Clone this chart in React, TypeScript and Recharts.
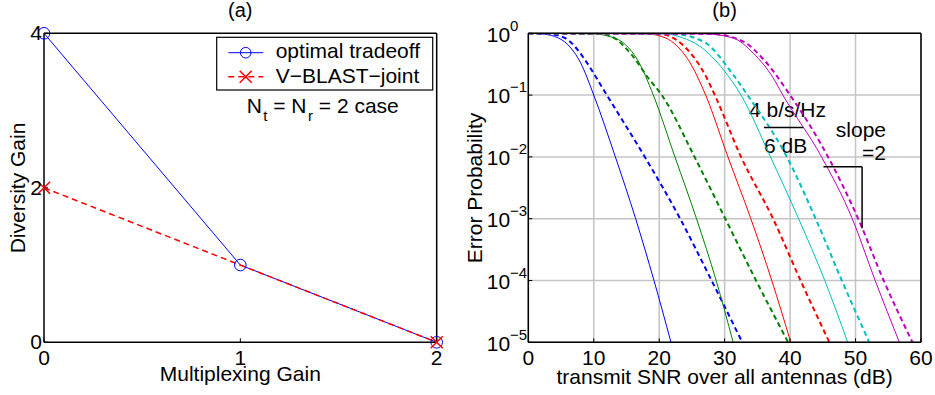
import React from 'react';
import { LineChart, Line, XAxis, YAxis, CartesianGrid, ReferenceLine, Customized } from 'recharts';

const FONT = '"Liberation Sans", Arial, Helvetica, sans-serif';

// (a) diversity vs multiplexing gain, Nt = Nr = 2
const optimalMux = [0, 1, 2];
const optimalDiv = [4, 1, 0];
const vblastMux = [0, 2];
const vblastDiv = [2, 0];
const muxTicks = [0, 1, 2];
const divTicks = [0, 2, 4];

// (b) error probability vs transmit SNR
const snrTicks = [0, 10, 20, 30, 40, 50, 60];
const peTicks = [1e-5, 1e-4, 1e-3, 1e-2, 1e-1, 1];
const peMinorTicks = [1e-5, 1e-4, 1e-3, 1e-2, 1e-1].flatMap(d => [2, 3, 4, 5, 6, 7, 8, 9].map(m => m * d));

const blueSolidSnr = [0, 2, 4, 6, 8, 10, 13.3, 16.4, 19.2, 21.8];
const blueSolidPe = [1, 0.977, 0.891, 0.661, 0.331, 0.1, 1e-2, 1e-3, 1e-4, 1e-5];
const blueDashSnr = [0, 3, 5.6, 8.66, 10.4, 12, 17.8, 23.2, 28.0, 32.7];
const blueDashPe = [1, 0.977, 0.839, 0.372, 0.191, 0.1, 1e-2, 1e-3, 1e-4, 1e-5];
const greenSolidSnr = [0, 10, 12, 14.8, 16.8, 19.1, 22.4, 25.7, 28.7, 31.3];
const greenSolidPe = [1, 0.977, 0.912, 0.661, 0.355, 0.1, 1e-2, 1e-3, 1e-4, 1e-5];
const greenDashSnr = [0, 11, 12.7, 15.8, 18.3, 20.4, 25.4, 30.1, 34.8, 39.7];
const greenDashPe = [1, 0.977, 0.891, 0.447, 0.191, 0.1, 1e-2, 1e-3, 1e-4, 1e-5];
const redSolidSnr = [0, 18, 20, 21.9, 24.9, 27.1, 30.5, 34.0, 37.2, 40.1];
const redSolidPe = [1, 0.977, 0.912, 0.741, 0.309, 0.1, 1e-2, 1e-3, 1e-4, 1e-5];
const redDashSnr = [0, 20, 23.9, 27, 28.5, 32.5, 37.4, 41.6, 46];
const redDashPe = [1, 0.977, 0.603, 0.214, 0.1, 1e-2, 1e-3, 1e-4, 1e-5];
const cyanSolidSnr = [0, 21, 23.5, 26.2, 29.9, 32.5, 37.0, 41.3, 45.3, 48.8];
const cyanSolidPe = [1, 0.977, 0.851, 0.617, 0.251, 0.1, 1e-2, 1e-3, 1e-4, 1e-5];
const cyanDashSnr = [0, 22, 26.7, 31.3, 33.5, 39.5, 43.9, 47.9, 52.1];
const cyanDashPe = [1, 0.977, 0.741, 0.214, 0.1, 1e-2, 1e-3, 1e-4, 1e-5];
const magSolidSnr = [0, 27, 31.3, 34.35, 37.4, 38.9, 44.8, 49.5, 53.0, 56.7];
const magSolidPe = [1, 0.977, 0.839, 0.479, 0.191, 0.1, 1e-2, 1e-3, 1e-4, 1e-5];
const magDashSnr = [0, 28, 32.8, 36.0, 40.0, 45.8, 50.4, 54.3, 58.7];
const magDashPe = [1, 0.977, 0.741, 0.372, 0.1, 1e-2, 1e-3, 1e-4, 1e-5];

// slope annotations (data coords)
const rateBar = [{ x: 36, y: 0.030 }, { x: 42, y: 0.030 }];
const slopeH = [{ x: 45.1, y: 0.0069 }, { x: 51, y: 0.0069 }];
const slopeV = [{ x: 51, y: 0.0069 }, { x: 51, y: 0.0007 }];

const optimalData = optimalMux.map((g, i) => ({ g, d: optimalDiv[i] }));
const vblastData = vblastMux.map((g, i) => ({ g, d: vblastDiv[i] }));
const toSeries = (snr: number[], pe: number[]) => snr.map((s, i) => ({ snr: s, pe: pe[i] }));

const curves = [
  { id: 'bs', data: toSeries(blueSolidSnr, blueSolidPe), color: '#0000ff', dashed: false },
  { id: 'bd', data: toSeries(blueDashSnr, blueDashPe), color: '#0000ff', dashed: true },
  { id: 'gs', data: toSeries(greenSolidSnr, greenSolidPe), color: '#008000', dashed: false },
  { id: 'gd', data: toSeries(greenDashSnr, greenDashPe), color: '#008000', dashed: true },
  { id: 'rs', data: toSeries(redSolidSnr, redSolidPe), color: '#ff0000', dashed: false },
  { id: 'rd', data: toSeries(redDashSnr, redDashPe), color: '#ff0000', dashed: true },
  { id: 'cs', data: toSeries(cyanSolidSnr, cyanSolidPe), color: '#00bfbf', dashed: false },
  { id: 'cd', data: toSeries(cyanDashSnr, cyanDashPe), color: '#00bfbf', dashed: true },
  { id: 'ms', data: toSeries(magSolidSnr, magSolidPe), color: '#bf00bf', dashed: false },
  { id: 'md', data: toSeries(magDashSnr, magDashPe), color: '#bf00bf', dashed: true },
];

const frame = { stroke: '#000', strokeWidth: 1.5 };
const tickStroke = { stroke: '#000', strokeWidth: 1 };
const THIN = 0.01; // axes of zero size are not drawn

const BottomTick = (props: any) => {
  const { x, y, payload } = props;
  return <text x={x} y={y + 15} textAnchor="middle" fontFamily={FONT} fontSize={21} fill="#000">{payload.value}</text>;
};

const DivTick = (props: any) => {
  const { x, y, payload } = props;
  return <text x={x} y={y + 7} textAnchor="end" fontFamily={FONT} fontSize={21} fill="#000">{payload.value}</text>;
};

const PeTick = (props: any) => {
  const { x, y, payload } = props;
  const e = Math.round(Math.log10(payload.value));
  return <text x={x} y={y + 8.3} textAnchor="start" fontFamily={FONT} fontSize={21} fill="#000">
      10<tspan dy={-11} fontSize={15}>{e === 0 ? '0' : '\u2212' + Math.abs(e)}</tspan>
    </text>;
};

const CircleDot = (p: any) => <circle key={'c' + p.index} cx={p.cx} cy={p.cy} r={5.8} fill="none" stroke="#0000ff" strokeWidth={1} />;
const CrossDot = (p: any) => <g key={'x' + p.index} stroke="#ff0000" strokeWidth={1.5}>
    <line x1={p.cx - 6} y1={p.cy - 6} x2={p.cx + 6} y2={p.cy + 6} />
    <line x1={p.cx - 6} y1={p.cy + 6} x2={p.cx + 6} y2={p.cy - 6} />
  </g>;

const TextA = () => <g fontFamily={FONT} fontSize={21} fill="#000">
    <text x={240.3} y={16.5} textAnchor="middle" fontSize={20}>(a)</text>
    <text x={240.3} y={381} textAnchor="middle">Multiplexing Gain</text>
    <text x={25} y={188} textAnchor="middle" transform="rotate(-90, 25, 188)">Diversity Gain</text>
    <rect x={216.7} y={37.3} width={216} height={52.7} fill="#fff" stroke="#000" strokeWidth={1.2} />
    <line x1={228.3} y1={52.7} x2={263.3} y2={52.7} stroke="#0000ff" strokeWidth={1} />
    <circle cx={245.7} cy={52.7} r={5.3} fill="none" stroke="#0000ff" strokeWidth={1} />
    <text x={275.7} y={58.3}>optimal tradeoff</text>
    <line x1={228.3} y1={76.7} x2={263.3} y2={76.7} stroke="#ff0000" strokeWidth={1.5} strokeDasharray="6 4" />
    <g stroke="#ff0000" strokeWidth={1.5}>
      <line x1={239.7} y1={70.7} x2={251.7} y2={82.7} />
      <line x1={239.7} y1={82.7} x2={251.7} y2={70.7} />
    </g>
    <text x={275.7} y={82.7}>V{'\u2212'}BLAST{'\u2212'}joint</text>
    <text x={246.7} y={113.3}>
      N<tspan dy={8} fontSize={15} dx={1.4}>t</tspan>
      <tspan dy={-8}> = N</tspan>
      <tspan dy={8} fontSize={15} dx={1.4}>r</tspan>
      <tspan dy={-8}> = 2 case</tspan>
    </text>
  </g>;

const TextB = () => <g fontFamily={FONT} fontSize={21} fill="#000">
    <text x={264.6} y={16.5} textAnchor="middle" fontSize={20}>(b)</text>
    <text x={264.6} y={384} textAnchor="middle">transmit SNR over all antennas (dB)</text>
    <text x={22} y={188} textAnchor="middle" transform="rotate(-90, 22, 188)">Error Probability</text>
    <text x={289} y={116.7}>4 b/s/Hz</text>
    <text x={304} y={153.3}>6 dB</text>
    <text x={426} y={137.3} textAnchor="end">slope</text>
    <text x={426} y={160} textAnchor="end">=2</text>
  </g>;

const TradeoffChart = () => <LineChart width={460} height={395} margin={{ top: 33.3, right: 23.3, left: 44, bottom: 52.7 }}>
    <XAxis dataKey="g" type="number" domain={[0, 2]} ticks={muxTicks} height={THIN} axisLine={frame} tickLine={tickStroke} tickSize={-4} tickMargin={11.7} tick={<BottomTick />} interval={0} />
    <XAxis xAxisId="top" orientation="top" dataKey="g" type="number" domain={[0, 2]} ticks={muxTicks} height={THIN} axisLine={frame} tickLine={tickStroke} tickSize={-4} tick={false} />
    <YAxis type="number" domain={[0, 4]} ticks={divTicks} width={THIN} axisLine={frame} tickLine={tickStroke} tickSize={-4} tickMargin={6} tick={<DivTick />} interval={0} />
    <YAxis yAxisId="right" orientation="right" type="number" domain={[0, 4]} ticks={divTicks} width={THIN} axisLine={frame} tickLine={tickStroke} tickSize={-4} tick={false} />
    <Line data={optimalData} dataKey="d" type="linear" stroke="#0000ff" strokeWidth={1} dot={CircleDot} activeDot={false} isAnimationActive={false} />
    <Line data={vblastData} dataKey="d" type="linear" stroke="#ff0000" strokeWidth={1.5} strokeDasharray="6 4" dot={CrossDot} activeDot={false} isAnimationActive={false} />
    <Customized component={TextA} />
  </LineChart>;

const ErrorChart = () => <LineChart width={475} height={395} margin={{ top: 33.3, right: 14, left: 68.3, bottom: 52.7 }}>
    <CartesianGrid stroke="#c4c4c4" strokeWidth={1.5} />
    <XAxis dataKey="snr" type="number" domain={[0, 60]} ticks={snrTicks} height={THIN} axisLine={frame} tickLine={tickStroke} tickSize={-4} tickMargin={11.7} tick={<BottomTick />} interval={0} allowDataOverflow />
    <XAxis xAxisId="top" orientation="top" dataKey="snr" type="number" domain={[0, 60]} ticks={snrTicks} height={THIN} axisLine={frame} tickLine={tickStroke} tickSize={-4} tick={false} allowDataOverflow />
    <YAxis scale="log" type="number" domain={[1e-5, 1]} ticks={peTicks} width={THIN} axisLine={frame} tickLine={tickStroke} tickSize={-4} tickMargin={45.6} tick={<PeTick />} interval={0} allowDataOverflow />
    <YAxis yAxisId="right" orientation="right" scale="log" type="number" domain={[1e-5, 1]} ticks={peTicks} width={THIN} axisLine={frame} tickLine={tickStroke} tickSize={-4} tick={false} allowDataOverflow />
    <YAxis yAxisId="minorL" scale="log" type="number" domain={[1e-5, 1]} ticks={peMinorTicks} width={THIN} axisLine={false} tickLine={tickStroke} tickSize={-2.5} tick={false} interval={0} allowDataOverflow />
    <YAxis yAxisId="minorR" orientation="right" scale="log" type="number" domain={[1e-5, 1]} ticks={peMinorTicks} width={THIN} axisLine={false} tickLine={tickStroke} tickSize={-2.5} tick={false} interval={0} allowDataOverflow />
    {curves.map(c => <Line key={c.id} data={c.data} dataKey="pe" type="monotone" stroke={c.color} strokeWidth={c.dashed ? 2 : 1} strokeDasharray={c.dashed ? '5 3.5' : undefined} dot={false} activeDot={false} isAnimationActive={false} />)}
    <ReferenceLine segment={rateBar} stroke="#000" strokeWidth={1.5} ifOverflow="visible" />
    <ReferenceLine segment={slopeH} stroke="#000" strokeWidth={1.5} ifOverflow="visible" />
    <ReferenceLine segment={slopeV} stroke="#000" strokeWidth={1.5} ifOverflow="visible" />
    <Customized component={TextB} />
  </LineChart>;

export default function App() {
  return <div style={{ position: 'absolute', left: 0, top: 0, width: 935, height: 395, background: '#fff' }}>
      <div style={{ position: 'absolute', left: 0, top: 0 }}>
        <TradeoffChart />
      </div>
      <div style={{ position: 'absolute', left: 460, top: 0 }}>
        <ErrorChart />
      </div>
    </div>;
}
